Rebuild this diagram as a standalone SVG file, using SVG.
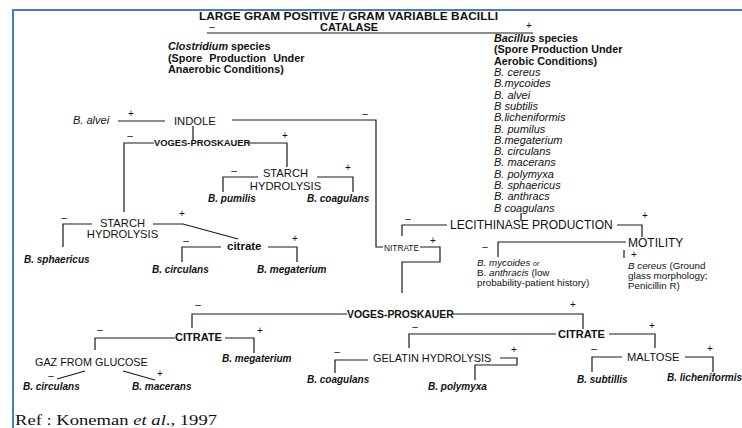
<svg xmlns="http://www.w3.org/2000/svg" width="742" height="428" viewBox="0 0 742 428">
<style>
text{font-family:"Liberation Sans",Arial,sans-serif;fill:#111}
.r{font-size:11.2px}
.big{font-size:12px}
.b{font-weight:bold}
.hd{font-size:10.8px;font-weight:bold}
.ls{font-size:11px;font-style:italic}
.sp{font-size:10px;font-weight:bold;font-style:italic}
.sm{font-size:9.8px}
.i{font-style:italic}
.sg{font-size:10px;text-anchor:middle}
.mid{text-anchor:middle}
.ln{stroke:#1a1a1a;stroke-width:1.2;fill:none}
</style>
<rect width="742" height="428" fill="#fff"/>
<path d="M13,428 V10 H742" fill="none" stroke="#4a7ebb" stroke-width="2"/>

<g id="connectors" class="ln">
<path d="M207,33 H533"/>
<path d="M118,121 H165"/>
<path d="M232,120 H376 V247 H383"/>
<path d="M193,126 V140"/>
<path d="M154,143 H124 V212"/>
<path d="M248,143 H287 V167"/>
<path d="M258,177 H223 V192"/>
<path d="M317,177 H353 V192"/>
<path d="M92,224 H63 V247"/>
<path d="M153,224 H183 L238,239"/>
<path d="M221,247 H182 V262"/>
<path d="M268,247 H297 V262"/>
<path d="M420,247 H440 V262 H402 V293"/>
<path d="M402,236 V225 H447"/>
<path d="M521,213 V221"/>
<path d="M617,225 H642 V237"/>
<path d="M626,242 H498 V257"/>
<path d="M624,250 V258"/>
<path d="M347,314 H192 V328"/>
<path d="M452,314 H583 V329"/>
<path d="M175,338 H95 V350"/>
<path d="M225,338 H254 V353"/>
<path d="M85,371 L57,379"/>
<path d="M123,371 L155,380"/>
<path d="M556,334 H409 V348"/>
<path d="M609,334 H655 V348"/>
<path d="M368,360 H335 V373"/>
<path d="M500,358 H517 V365 H475 V380"/>
<path d="M622,357 H592 V372"/>
<path d="M685,357 H713 V372"/>
</g>

<g id="edge-labels">
<text class="sg" x="212" y="30">–</text>
<text class="sg" x="529" y="29">+</text>
<text class="sg" x="131" y="117">+</text>
<text class="sg" x="365" y="117">–</text>
<text class="sg" x="130" y="139">–</text>
<text class="sg" x="285" y="139">+</text>
<text class="sg" x="234" y="174">–</text>
<text class="sg" x="348" y="171">+</text>
<text class="sg" x="64" y="221">–</text>
<text class="sg" x="182" y="217">+</text>
<text class="sg" x="186" y="244">–</text>
<text class="sg" x="295" y="242">+</text>
<text class="sg" x="433" y="244">+</text>
<text class="sg" x="408" y="222">–</text>
<text class="sg" x="645" y="219">+</text>
<text class="sg" x="485" y="250">–</text>
<text class="sg" x="634" y="258.2" font-size="8">+</text>
<text class="sg" x="198" y="308">–</text>
<text class="sg" x="573" y="308">+</text>
<text class="sg" x="100" y="333">–</text>
<text class="sg" x="260" y="334">+</text>
<text class="sg" x="51" y="379">–</text>
<text class="sg" x="160" y="377">+</text>
<text class="sg" x="415" y="330">–</text>
<text class="sg" x="652" y="329">+</text>
<text class="sg" x="337" y="355">–</text>
<text class="sg" x="514" y="353">+</text>
<text class="sg" x="594" y="352">–</text>
<text class="sg" x="710" y="352">+</text>
</g>

<g id="title">
<text class="b" x="199" y="20" font-size="10.8" textLength="299" lengthAdjust="spacingAndGlyphs">LARGE GRAM POSITIVE / GRAM VARIABLE BACILLI</text>
</g>
<g id="catalase"><text class="b" x="320" y="31" font-size="10.5" textLength="58" lengthAdjust="spacingAndGlyphs">CATALASE</text></g>

<g id="clostridium">
<text class="hd" x="168" y="50"><tspan font-style="italic">Clostridium</tspan> species</text>
<text class="hd" x="168" y="62" word-spacing="4">(Spore Production Under</text>
<text class="hd" x="168" y="73">Anaerobic Conditions)</text>
</g>

<g id="bacillus">
<text class="hd" x="494" y="42"><tspan font-style="italic">Bacillus</tspan> species</text>
<text class="hd" x="494" y="53.3">(Spore Production Under</text>
<text class="hd" x="494" y="64.6">Aerobic Conditions)</text>
<text class="ls" x="494" y="76">B. cereus</text>
<text class="ls" x="494" y="87.3">B.mycoides</text>
<text class="ls" x="494" y="98.6">B. alvei</text>
<text class="ls" x="494" y="109.9">B subtilis</text>
<text class="ls" x="494" y="121.2">B.licheniformis</text>
<text class="ls" x="494" y="132.5">B. pumilus</text>
<text class="ls" x="494" y="143.8">B.megaterium</text>
<text class="ls" x="494" y="155.1">B. circulans</text>
<text class="ls" x="494" y="166.4">B. macerans</text>
<text class="ls" x="494" y="177.7">B. polymyxa</text>
<text class="ls" x="494" y="189">B. sphaericus</text>
<text class="ls" x="494" y="200.3">B. anthracs</text>
<text class="ls" x="494" y="211.6">B coagulans</text>
</g>

<g id="b-alvei"><text class="i" x="73" y="124" font-size="11">B. alvei</text></g>
<g id="indole"><text class="r" x="174" y="125">INDOLE</text></g>
<g id="vp-upper"><text class="b" x="154" y="146" font-size="9.4">VOGES-PROSKAUER</text></g>
<g id="starch-upper">
<text class="r mid" x="285.5" y="177">STARCH</text>
<text class="r mid" x="285.5" y="190">HYDROLYSIS</text>
</g>
<g id="b-pumilis"><text class="sp" x="208" y="202">B. pumilis</text></g>
<g id="b-coagulans-1"><text class="sp" x="307" y="202">B. coagulans</text></g>
<g id="starch-lower">
<text class="r mid" x="122.5" y="227">STARCH</text>
<text class="r mid" x="122.5" y="238">HYDROLYSIS</text>
</g>
<g id="b-sphaericus"><text class="sp" x="24" y="263">B. sphaericus</text></g>
<g id="citrate-small"><text class="b" x="227" y="250" font-size="11.5">citrate</text></g>
<g id="b-circulans-1"><text class="sp" x="152" y="273">B. circulans</text></g>
<g id="b-megaterium-1"><text class="sp" x="257" y="273">B. megaterium</text></g>

<g id="nitrate"><text x="384" y="251" font-size="9" textLength="35" lengthAdjust="spacingAndGlyphs">NITRATE</text></g>
<g id="lecithinase"><text class="big" x="450" y="229">LECITHINASE PRODUCTION</text></g>
<g id="motility"><text class="big" x="628" y="246.5">MOTILITY</text></g>
<g id="mycoides">
<text class="sm" x="477" y="266"><tspan font-style="italic">B. mycoides</tspan> <tspan font-style="italic" font-size="7">or</tspan></text>
<text class="sm" x="477" y="276">B. <tspan font-style="italic">anthracis</tspan> (low</text>
<text class="sm" x="477" y="286">probability-patient history)</text>
</g>
<g id="cereus">
<text class="sm" x="628" y="269"><tspan font-style="italic">B cereus</tspan> (Ground</text>
<text class="sm" x="628" y="279">glass morphology;</text>
<text class="sm" x="628" y="289">Penicillin R)</text>
</g>

<g id="vp-lower"><text class="b" x="347" y="318" font-size="10.4">VOGES-PROSKAUER</text></g>
<g id="citrate-left"><text class="b" x="175" y="341" font-size="11">CITRATE</text></g>
<g id="b-megaterium-2"><text class="sp" x="222" y="362">B. megaterium</text></g>
<g id="gaz"><text x="35" y="366" font-size="10.8">GAZ FROM GLUCOSE</text></g>
<g id="b-circulans-2"><text class="sp" x="23" y="390">B. circulans</text></g>
<g id="b-macerans"><text class="sp" x="132" y="390">B. macerans</text></g>
<g id="citrate-right"><text class="b" x="558" y="338" font-size="11">CITRATE</text></g>
<g id="gelatin"><text x="373" y="362" font-size="10.9">GELATIN HYDROLYSIS</text></g>
<g id="b-coagulans-2"><text class="sp" x="307" y="383">B. coagulans</text></g>
<g id="b-polymyxa"><text class="sp" x="428" y="390">B. polymyxa</text></g>
<g id="maltose"><text class="r" x="627" y="361">MALTOSE</text></g>
<g id="b-subtillis"><text class="sp" x="577" y="383">B. subtillis</text></g>
<g id="b-licheniformis"><text class="sp" x="667" y="381">B. licheniformis</text></g>

<g id="ref"><text x="15" y="425" font-size="15" textLength="202" lengthAdjust="spacingAndGlyphs" style="font-family:'Liberation Serif','Times New Roman',serif">Ref :  Koneman <tspan font-style="italic">et al</tspan>., 1997</text></g>
</svg>
